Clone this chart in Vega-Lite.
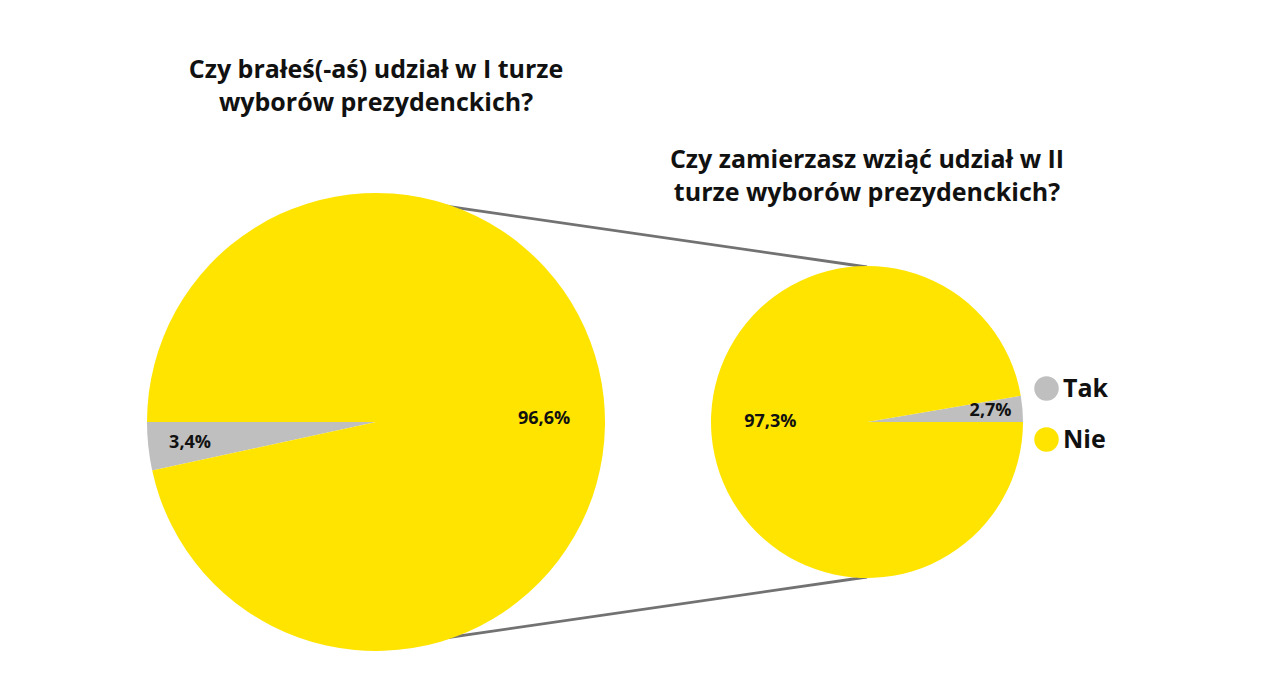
{
  "$schema": "https://vega.github.io/schema/vega-lite/v6.json",
  "width": 1280,
  "height": 538,
  "autosize": {"type": "none"},
  "padding": {"top": 153, "left": 0, "right": 0, "bottom": 0},
  "background": "white",
  "config": {"view": {"stroke": null}, "font": "Open Sans"},
  "datasets": {
    "odpowiedzi": [
      {"tura": "I tura", "odpowiedz": "Tak", "procent": 3.4},
      {"tura": "I tura", "odpowiedz": "Nie", "procent": 96.6},
      {"tura": "II tura", "odpowiedz": "Tak", "procent": 2.7},
      {"tura": "II tura", "odpowiedz": "Nie", "procent": 97.3}
    ],
    "pytania": [
      {"tura": "I tura", "pytanie": "Czy brałeś(-aś) udział w I turze\nwyborów prezydenckich?"},
      {"tura": "II tura", "pytanie": "Czy zamierzasz wziąć udział w II\nturze wyborów prezydenckich?"}
    ],
    "polaczenie": [{"od": "I tura", "do": "II tura"}]
  },
  "layer": [
    {
      "data": {"name": "polaczenie"},
      "mark": {"type": "rule", "color": "#727272", "strokeWidth": 2.8},
      "encoding": {
        "x": {"field": "od", "type": "nominal", "scale": {"type": "point", "domain": ["I tura", "II tura"], "range": [376, 867], "padding": 0}, "axis": null},
        "x2": {"field": "do"},
        "y": {"value": {"expr": "height/2 - 226"}},
        "y2": {"value": {"expr": "height/2 - 155"}}
      }
    },
    {
      "data": {"name": "polaczenie"},
      "mark": {"type": "rule", "color": "#727272", "strokeWidth": 2.8},
      "encoding": {
        "x": {"field": "od", "type": "nominal", "scale": {"type": "point", "domain": ["I tura", "II tura"], "range": [376, 867], "padding": 0}, "axis": null},
        "x2": {"field": "do"},
        "y": {"value": {"expr": "height/2 + 226"}},
        "y2": {"value": {"expr": "height/2 + 155"}}
      }
    },
    {
      "data": {"name": "odpowiedzi"},
      "transform": [
        {"filter": "datum.tura == 'I tura'"},
        {"calculate": "replace(format(datum.procent, '.1f'), '.', ',') + '%'", "as": "etykieta"}
      ],
      "encoding": {
        "x": {"field": "tura", "type": "nominal", "scale": {"type": "point", "domain": ["I tura", "II tura"], "range": [376, 867], "padding": 0}, "axis": null},
        "theta": {"field": "procent", "type": "quantitative", "stack": true, "scale": {"range": [4.49877, 10.78196]}},
        "order": {"field": "odpowiedz", "sort": "descending"},
        "color": {
          "field": "odpowiedz", "type": "nominal",
          "scale": {"domain": ["Tak", "Nie"], "range": ["#BFBFBF", "#FFE400"]},
          "legend": {
            "title": null, "orient": "none", "legendX": 1034, "legendY": 223,
            "symbolType": "circle", "symbolSize": 600, "symbolStrokeWidth": 0,
            "labelFontSize": 25, "labelFont": "Open Sans", "labelFontWeight": "bold", "labelColor": "#111111",
            "labelOffset": 4, "rowPadding": 25,
            "encode": {"symbols": {"update": {"fill": {"signal": "datum.value === 'Tak' ? '#D3D3D3' : '#FFE400'"}}}}
          }
        }
      },
      "layer": [
        {"mark": {"type": "arc", "outerRadius": 229}},
        {
          "mark": {
            "type": "text", "fontSize": 18, "fontWeight": "bold", "font": "Open Sans",
            "radius": {"expr": "datum.odpowiedz == 'Tak' ? 187 : 169"},
            "dy": {"expr": "datum.odpowiedz == 'Nie' ? 15 : 1"}
          },
          "encoding": {
            "text": {"field": "etykieta"},
            "detail": {"field": "odpowiedz"},
            "color": {"value": "#111111"}
          }
        }
      ]
    },
    {
      "data": {"name": "odpowiedzi"},
      "transform": [
        {"filter": "datum.tura == 'II tura'"},
        {"calculate": "replace(format(datum.procent, '.1f'), '.', ',') + '%'", "as": "etykieta"}
      ],
      "encoding": {
        "x": {"field": "tura", "type": "nominal", "scale": {"type": "point", "domain": ["I tura", "II tura"], "range": [376, 867], "padding": 0}, "axis": null},
        "theta": {"field": "procent", "type": "quantitative", "stack": true, "scale": {"range": [1.40115, 7.68434]}},
        "order": {"field": "odpowiedz", "sort": "descending"},
        "color": {
          "field": "odpowiedz", "type": "nominal",
          "scale": {"domain": ["Tak", "Nie"], "range": ["#BFBFBF", "#FFE400"]},
          "legend": {
            "title": null, "orient": "none", "legendX": 1034, "legendY": 223,
            "symbolType": "circle", "symbolSize": 600, "symbolStrokeWidth": 0,
            "labelFontSize": 25, "labelFont": "Open Sans", "labelFontWeight": "bold", "labelColor": "#111111",
            "labelOffset": 4, "rowPadding": 25,
            "encode": {"symbols": {"update": {"fill": {"signal": "datum.value === 'Tak' ? '#D3D3D3' : '#FFE400'"}}}}
          }
        }
      },
      "layer": [
        {"mark": {"type": "arc", "outerRadius": 156}},
        {
          "mark": {
            "type": "text", "fontSize": 18, "fontWeight": "bold", "font": "Open Sans",
            "radius": {"expr": "datum.odpowiedz == 'Tak' ? 124 : 97"},
            "dy": {"expr": "datum.odpowiedz == 'Nie' ? -8 : 0"}
          },
          "encoding": {
            "text": {"field": "etykieta"},
            "detail": {"field": "odpowiedz"},
            "color": {"value": "#111111"}
          }
        }
      ]
    },
    {
      "data": {"name": "pytania"},
      "mark": {"type": "text", "fontSize": 25, "fontWeight": "bold", "font": "Open Sans", "lineBreak": "\n", "lineHeight": 33, "align": "center", "baseline": "alphabetic", "color": "#111111"},
      "encoding": {
        "x": {"field": "tura", "type": "nominal", "scale": {"type": "point", "domain": ["I tura", "II tura"], "range": [376, 867], "padding": 0}, "axis": null},
        "y": {"field": "tura", "type": "nominal", "scale": {"type": "point", "domain": ["I tura", "II tura"], "range": [-75, 15], "padding": 0}, "axis": null},
        "text": {"field": "pytanie"}
      }
    }
  ],
  "resolve": {"scale": {"theta": "independent"}}
}
